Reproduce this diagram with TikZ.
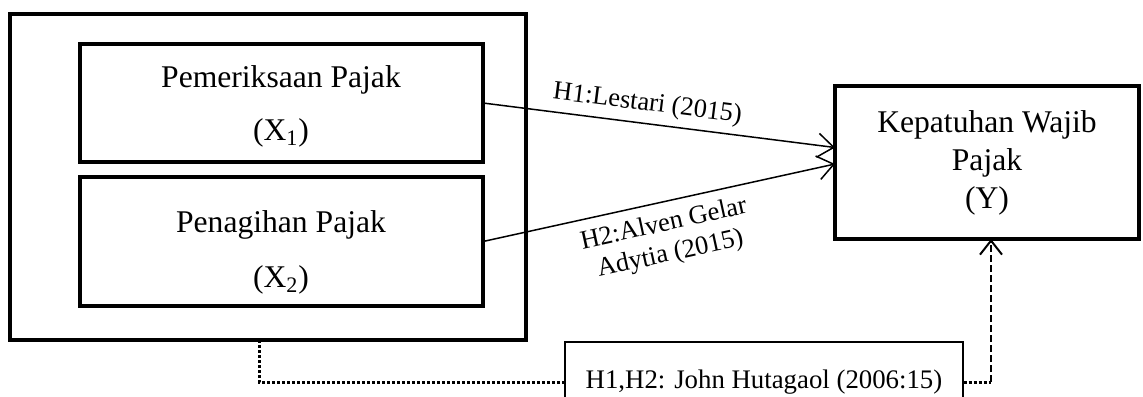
\documentclass[tikz,border=0pt]{standalone}
\usepackage{fontspec}
\setmainfont{Liberation Serif}
\usetikzlibrary{arrows.meta,calc}
\begin{document}
\begin{tikzpicture}[x=0.5pt,y=-0.5pt,
  thickbox/.style={draw, line width=2pt, inner sep=0pt, outer sep=0pt},
  maintext/.style={font=\fontsize{15.8}{19}\selectfont, inner sep=0pt},
  labeltext/.style={font=\fontsize{13.2}{15.2}\selectfont},
  arr/.style={line width=0.75pt, -{Straight Barb[length=8pt,width=12pt]}},
  dotline/.style={line width=1.5pt, dash pattern=on 1.5pt off 1pt},
  dashline/.style={line width=1pt, dash pattern=on 3.5pt off 1.5pt, -{Straight Barb[length=7pt,width=11pt]}},
]
\fill[white] (0,0) rectangle (1143,396);
\clip (0,0) rectangle (1143,396);

\node[thickbox, minimum width=258pt, minimum height=163pt] (outer) at (268,177) {};
\node[thickbox, minimum width=201.5pt, minimum height=59pt] (b1) at (281.5,103) {};
\node[thickbox, minimum width=201.5pt, minimum height=64.5pt] (b2) at (281.5,241.5) {};
\node[maintext] (t1) at (281,80) {Pemeriksaan Pajak};
\node[maintext] (t1x) at (281,133) {(X\textsubscript{1})};
\node[maintext] (t2) at (281,225) {Penagihan Pajak};
\node[maintext] (t2x) at (281,280) {(X\textsubscript{2})};

\node[thickbox, line width=2.2pt, minimum width=152pt, minimum height=76.5pt, align=center, maintext] (Y) at (987,162.5) {Kepatuhan Wajib\\Pajak\\(Y)};

\draw[arr] (b1.east) -- node[labeltext, sloped, above, pos=0.46] (l1) {H1:Lestari (2015)} ($(Y.west)+(0,-15)$);
\draw[arr] (b2.east) -- node[labeltext, sloped, below, pos=0.5, align=center, inner sep=5pt] (l2) {H2:Alven Gelar\\Adytia (2015)} ($(Y.west)+(0,1.5)$);

\node[draw, line width=0.6pt, minimum width=199pt, minimum height=40pt, inner sep=0pt, font=\fontsize{13.4}{15}\selectfont] (ref) at (764,382) {H1,H2: John Hutagaol (2006:15)};

\coordinate (d0) at ($(outer.south)+(-9,0)$);
\coordinate (c) at (991,382);
\draw[dotline] (d0) |- (ref.west);
\draw[dotline] (ref.east) -- (c);
\draw[dashline] (c) -- (Y.south -| c);
\end{tikzpicture}
\end{document}
